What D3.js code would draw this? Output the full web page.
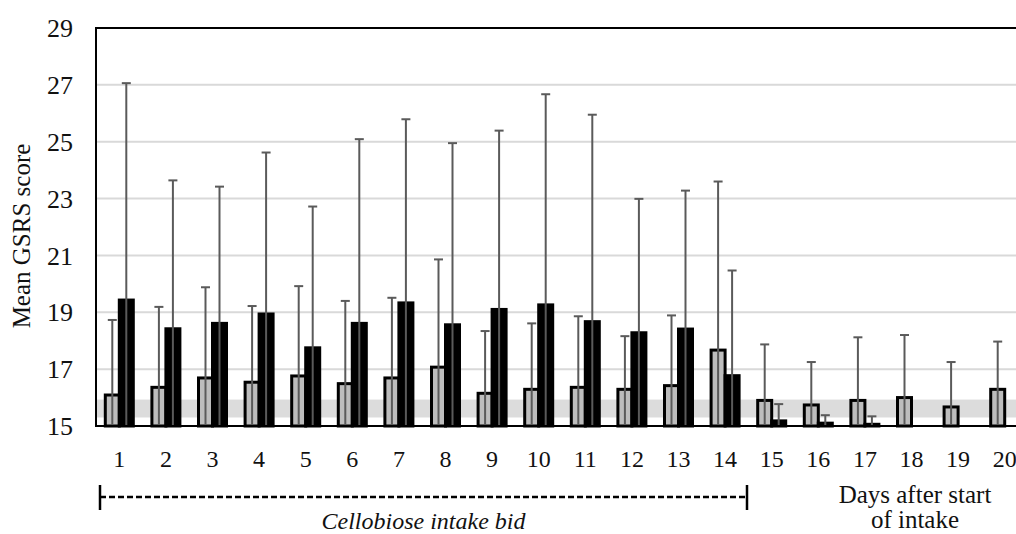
<!DOCTYPE html>
<html lang="en">
<head>
  <meta charset="UTF-8">
  <title>Mean GSRS score</title>
  <script src="https://d3js.org/d3.v7.min.js"></script>
  <style>
    body { margin: 0; background: #fff; }
    svg { display: block; font-family: "Liberation Serif", "DejaVu Serif", serif; }
    .tick-label { font-size: 26px; fill: #111; }
    .note { font-size: 25px; fill: #111; }
  </style>
</head>
<body>
  <svg width="1016" height="534"></svg>

  <script>
    const days = d3.range(1, 21);
    // grey bars (mean and SD)
    const greyMean = [16.09, 16.36, 16.69, 16.54, 16.76, 16.49, 16.69, 17.07, 16.15, 16.29,
                      16.36, 16.29, 16.42, 17.67, 15.90, 15.74, 15.90, 16.00, 15.67, 16.29];
    const greySd   = [2.64, 2.83, 3.19, 2.68, 3.16, 2.91, 2.82, 3.79, 2.19, 2.32,
                      2.50, 1.87, 2.47, 5.93, 1.97, 1.51, 2.22, 2.20, 1.58, 1.68];
    // black bars (mean and SD)
    const blackMean = [19.43, 18.42, 18.61, 18.94, 17.75, 18.61, 19.33, 18.56, 19.10, 19.26,
                       18.67, 18.28, 18.41, 16.77, 15.18, 15.10, 15.06, null, null, null];
    const blackSd   = [7.63, 5.22, 4.81, 5.68, 4.97, 6.48, 6.46, 6.39, 6.29, 7.41,
                       7.28, 4.71, 4.87, 3.70, 0.59, 0.28, 0.28, null, null, null];
    const yTicks = [15, 17, 19, 21, 23, 25, 27, 29];
    const band = [15.3, 15.93];

    const svg = d3.select("svg");
    const pLeft = 96, pTop = 28, pBottom = 426, pRight = 1028;

    const x = d3.scaleBand().domain(days).range([pLeft, pRight]);
    const inner = d3.scaleBand().domain(["grey", "black"]).range([x.bandwidth() / 2 - 14, x.bandwidth() / 2 + 14]);
    const y = d3.scaleLinear().domain([15, 29]).range([pBottom, pTop]);

    const rows = [];
    days.forEach((d, i) => {
      rows.push({ day: d, s: "grey", mean: greyMean[i], sd: greySd[i] });
      if (blackMean[i] != null) rows.push({ day: d, s: "black", mean: blackMean[i], sd: blackSd[i] });
    });

    // grey reference band
    svg.append("rect")
      .attr("x", pLeft).attr("width", pRight - pLeft)
      .attr("y", y(band[1])).attr("height", y(band[0]) - y(band[1]))
      .attr("fill", "#dcdcdc");

    // gridlines
    svg.append("g").selectAll("line")
      .data(yTicks.filter(t => t > 15 && t < 29))
      .join("line")
      .attr("x1", pLeft).attr("x2", pRight)
      .attr("y1", d => y(d)).attr("y2", d => y(d))
      .attr("stroke", "#d9d9d9").attr("stroke-width", 2);

    // bars
    svg.append("g").selectAll("rect")
      .data(rows)
      .join("rect")
      .attr("x", d => x(d.day) + inner(d.s))
      .attr("width", inner.bandwidth())
      .attr("y", d => y(d.mean))
      .attr("height", d => y(15) - y(d.mean))
      .attr("fill", d => d.s === "grey" ? "#bdbdbd" : "#000")
      .attr("stroke", "#000").attr("stroke-width", 3);

    // error bars
    const eb = svg.append("g").attr("stroke", "#5a5a5a").attr("stroke-width", 2);
    const cx = d => x(d.day) + inner(d.s) + inner.bandwidth() / 2;
    eb.selectAll("line.v").data(rows).join("line").attr("class", "v")
      .attr("x1", cx).attr("x2", cx)
      .attr("y1", d => y(d.mean + d.sd))
      .attr("y2", d => y(Math.max(15, d.mean - d.sd)));
    eb.selectAll("line.c").data(rows).join("line").attr("class", "c")
      .attr("x1", d => cx(d) - 4.5).attr("x2", d => cx(d) + 4.5)
      .attr("y1", d => y(d.mean + d.sd)).attr("y2", d => y(d.mean + d.sd));

    // frame
    svg.append("path")
      .attr("d", `M${pRight},${pTop}H${pLeft}V${pBottom}H${pRight}`)
      .attr("fill", "none").attr("stroke", "#000").attr("stroke-width", 2);

    // y labels
    svg.append("g").selectAll("text")
      .data(yTicks)
      .join("text")
      .attr("class", "tick-label")
      .attr("x", 73).attr("y", d => y(d))
      .attr("dy", "0.35em")
      .attr("text-anchor", "end")
      .text(d => d);

    svg.append("text")
      .attr("class", "note")
      .attr("transform", "translate(30,236) rotate(-90)")
      .attr("text-anchor", "middle")
      .text("Mean GSRS score");

    // x labels
    svg.append("g").selectAll("text")
      .data(days)
      .join("text")
      .attr("class", "tick-label")
      .style("font-size", "24px")
      .attr("x", d => x(d) + x.bandwidth() / 2)
      .attr("y", 467)
      .attr("text-anchor", "middle")
      .text(d => d);

    // intake period bracket
    const x0 = 100, x1 = 747;
    svg.append("line")
      .attr("x1", x0).attr("x2", x1).attr("y1", 497).attr("y2", 497)
      .attr("stroke", "#000").attr("stroke-width", 2.5).attr("stroke-dasharray", "6,3");
    svg.append("g").selectAll("line")
      .data([x0, x1])
      .join("line")
      .attr("x1", d => d).attr("x2", d => d)
      .attr("y1", 485).attr("y2", 510)
      .attr("stroke", "#000").attr("stroke-width", 2.5);

    svg.append("text")
      .attr("class", "note")
      .style("font-size", "24px")
      .attr("x", (x0 + x1) / 2).attr("y", 529)
      .attr("text-anchor", "middle")
      .style("font-style", "italic")
      .text("Cellobiose intake bid");

    svg.append("text")
      .attr("class", "note")
      .attr("x", 915).attr("y", 503)
      .attr("text-anchor", "middle")
      .text("Days after start");
    svg.append("text")
      .attr("class", "note")
      .attr("x", 915).attr("y", 528)
      .attr("text-anchor", "middle")
      .text("of intake");
  </script>
</body>
</html>
